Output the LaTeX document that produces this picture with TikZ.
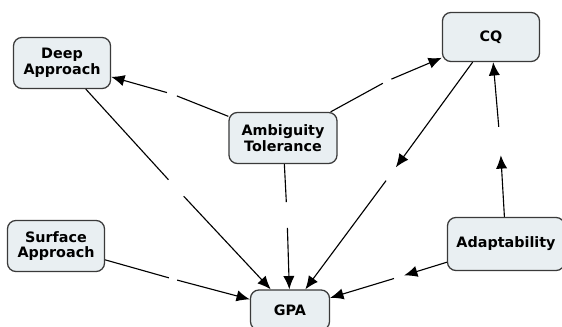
\documentclass[tikz,border=0pt]{standalone}
\usepackage{fontspec}
\setmainfont{DejaVu Sans}
\usepackage{tikz}
\usepackage{xcolor}
\usetikzlibrary{arrows.meta}

\definecolor{conceptfill}{HTML}{E9EFF2}
\definecolor{conceptdraw}{HTML}{3A3A3A}

\begin{document}
\begin{tikzpicture}[x=0.025cm, y=-0.025cm,
  concept/.style={draw=conceptdraw, fill=conceptfill, line width=0.9pt,
    rounded corners=6pt, align=center, inner sep=2pt,
    font=\fontsize{10.2}{11.2}\selectfont\bfseries, minimum height=1.275cm},
  link/.style={circle, inner sep=0pt},
  con/.style={line width=0.8pt, black},
  >={Latex[length=9.5pt,width=8pt]}]
\useasboundingbox (0,0) rectangle (562,327);

\node[concept, minimum width=2.425cm] (deep) at (62,63) {Deep\\Approach};
\node[concept, minimum width=2.425cm, minimum height=1.225cm] (cq) at (491,37) {CQ};
\node[concept, minimum width=2.7cm] (amb) at (283,138) {Ambiguity\\Tolerance};
\node[concept, minimum width=2.425cm] (surf) at (56,246) {Surface\\Approach};
\node[concept, minimum width=2.925cm, minimum height=1.325cm] (adapt) at (506,244) {Adaptability};
\node[concept, minimum width=1.975cm, minimum height=1cm] (gpa) at (290,310) {GPA};

\node[link, minimum size=0.25cm] (l1) at (172,94) {};
\node[link, minimum size=0.225cm] (l2) at (387,81) {};
\node[link, minimum size=0.55cm] (l3) at (176,188) {};
\node[link, minimum size=0.625cm] (l4) at (287,215) {};
\node[link, minimum size=0.4cm] (l5) at (391,174) {};
\node[link, minimum size=0.7cm] (l6) at (500,141) {};
\node[link, minimum size=0.25cm] (l7) at (399,277) {};
\node[link, minimum size=0.2cm] (l8) at (173,279) {};

\draw[con] (amb) -- (l1);
\draw[con, ->] (l1) -- (deep);
\draw[con] (amb) -- (l2);
\draw[con, ->] (l2) -- (cq);
\draw[con] (deep) -- (l3);
\draw[con, ->] (l3) -- (gpa);
\draw[con] (amb) -- (l4);
\draw[con, ->] (l4) -- (gpa);
\draw[con, ->] (cq) -- (l5);
\draw[con, ->] (l5) -- (gpa);
\draw[con, ->] (adapt) -- (l6);
\draw[con, ->] (l6) -- (cq);
\draw[con, ->] (adapt) -- (l7);
\draw[con, ->] (l7) -- (gpa);
\draw[con] (surf) -- (l8);
\draw[con, ->] (l8) -- (gpa);
\end{tikzpicture}
\end{document}
